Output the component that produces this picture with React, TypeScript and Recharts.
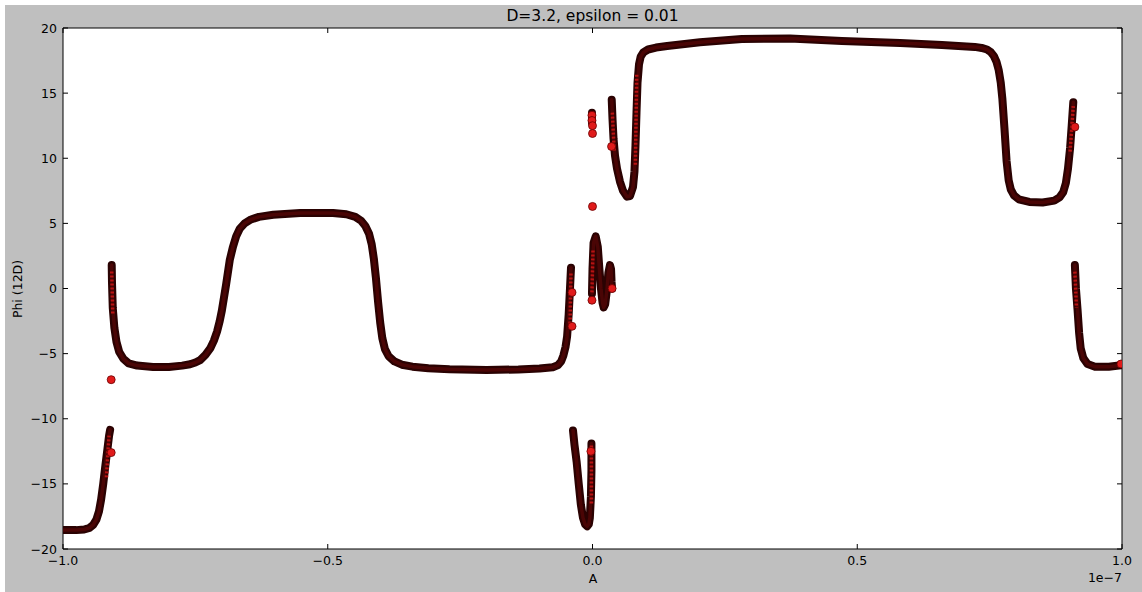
import React from "react";
import {
  CartesianGrid,
  ReferenceLine,
  Scatter,
  ScatterChart,
  XAxis,
  YAxis,
} from "recharts";

type Pt = { x: number; y: number };

// x is in units of 1e-7
const xTicks = [-1, -0.5, 0, 0.5, 1];
const yTicks = [-20, -15, -10, -5, 0, 5, 10, 15, 20];

const lowerLeft: Pt[] = [
  { x: -1.0, y: -18.55 }, { x: -0.975, y: -18.55 }, { x: -0.96, y: -18.5 },
  { x: -0.95, y: -18.38 }, { x: -0.943, y: -18.15 }, { x: -0.937, y: -17.75 },
  { x: -0.932, y: -17.1 }, { x: -0.928, y: -16.2 }, { x: -0.924, y: -15.0 },
  { x: -0.92, y: -13.6 }, { x: -0.916, y: -12.3 }, { x: -0.913, y: -11.3 },
  { x: -0.911, y: -10.85 },
];

const leftWell: Pt[] = [
  { x: -0.908, y: 1.8 }, { x: -0.9075, y: 0.5 }, { x: -0.906, y: -1.5 },
  { x: -0.903, y: -3.0 }, { x: -0.899, y: -4.1 }, { x: -0.894, y: -4.85 },
  { x: -0.886, y: -5.4 }, { x: -0.876, y: -5.75 }, { x: -0.86, y: -5.92 },
  { x: -0.83, y: -6.02 }, { x: -0.8, y: -6.02 }, { x: -0.775, y: -5.92 },
  { x: -0.76, y: -5.82 }, { x: -0.75, y: -5.68 }, { x: -0.741, y: -5.5 },
  { x: -0.731, y: -5.1 }, { x: -0.722, y: -4.6 }, { x: -0.715, y: -4.0 },
  { x: -0.709, y: -3.3 }, { x: -0.704, y: -2.5 }, { x: -0.7, y: -1.7 },
  { x: -0.692, y: 0.3 }, { x: -0.685, y: 2.2 }, { x: -0.679, y: 3.2 },
  { x: -0.673, y: 4.0 }, { x: -0.666, y: 4.6 }, { x: -0.657, y: 5.0 },
  { x: -0.645, y: 5.3 }, { x: -0.63, y: 5.5 }, { x: -0.603, y: 5.66 },
  { x: -0.552, y: 5.8 }, { x: -0.49, y: 5.8 }, { x: -0.465, y: 5.7 },
  { x: -0.448, y: 5.5 }, { x: -0.437, y: 5.2 }, { x: -0.429, y: 4.8 },
  { x: -0.422, y: 4.2 }, { x: -0.417, y: 3.4 }, { x: -0.413, y: 2.3 },
  { x: -0.409, y: 0.8 }, { x: -0.405, y: -1.0 }, { x: -0.401, y: -2.6 },
  { x: -0.397, y: -3.8 }, { x: -0.392, y: -4.65 }, { x: -0.385, y: -5.2 },
  { x: -0.374, y: -5.6 }, { x: -0.36, y: -5.85 }, { x: -0.34, y: -6.0 },
  { x: -0.31, y: -6.12 }, { x: -0.27, y: -6.2 }, { x: -0.2, y: -6.25 },
  { x: -0.14, y: -6.22 }, { x: -0.1, y: -6.15 }, { x: -0.075, y: -6.05 },
  { x: -0.065, y: -5.88 }, { x: -0.059, y: -5.58 }, { x: -0.055, y: -5.15 },
  { x: -0.051, y: -4.5 }, { x: -0.048, y: -3.7 }, { x: -0.045, y: -2.0 },
  { x: -0.0425, y: 0.0 }, { x: -0.0406, y: 1.6 },
];

const lowerDip: Pt[] = [
  { x: -0.0368, y: -10.9 }, { x: -0.034, y: -12.0 }, { x: -0.03, y: -13.3 },
  { x: -0.026, y: -15.0 }, { x: -0.022, y: -16.6 }, { x: -0.018, y: -17.6 },
  { x: -0.014, y: -18.1 }, { x: -0.01, y: -18.25 }, { x: -0.007, y: -18.1 },
  { x: -0.005, y: -17.6 }, { x: -0.003, y: -16.0 }, { x: -0.002, y: -14.0 },
  { x: -0.002, y: -11.9 },
];

const centreWiggle: Pt[] = [
  { x: -0.001, y: -0.4 }, { x: 0.0, y: 1.5 }, { x: 0.002, y: 3.5 },
  { x: 0.006, y: 4.0 }, { x: 0.01, y: 3.2 }, { x: 0.013, y: 1.5 },
  { x: 0.016, y: 0.0 }, { x: 0.019, y: -1.1 }, { x: 0.021, y: -1.45 },
  { x: 0.024, y: -1.2 }, { x: 0.027, y: -0.2 }, { x: 0.03, y: 1.2 },
  { x: 0.033, y: 1.8 }, { x: 0.035, y: 1.5 }, { x: 0.036, y: 0.5 },
  { x: 0.037, y: 0.0 },
];

const centreStub: Pt[] = [
  { x: -0.001, y: 13.5 }, { x: -0.001, y: 12.7 },
];

const upperArch: Pt[] = [
  { x: 0.0363, y: 14.5 }, { x: 0.0378, y: 13.0 }, { x: 0.0397, y: 11.5 },
  { x: 0.0425, y: 10.2 }, { x: 0.0463, y: 9.2 }, { x: 0.0519, y: 8.2 },
  { x: 0.0576, y: 7.5 }, { x: 0.0652, y: 7.05 }, { x: 0.0708, y: 7.1 },
  { x: 0.0765, y: 7.8 }, { x: 0.0793, y: 9.0 }, { x: 0.0812, y: 11.0 },
  { x: 0.0831, y: 13.5 }, { x: 0.085, y: 15.8 }, { x: 0.0878, y: 17.2 },
  { x: 0.091, y: 17.8 }, { x: 0.096, y: 18.12 }, { x: 0.105, y: 18.35 },
  { x: 0.12, y: 18.5 }, { x: 0.141, y: 18.62 }, { x: 0.203, y: 18.9 },
  { x: 0.282, y: 19.15 }, { x: 0.373, y: 19.2 }, { x: 0.471, y: 19.0 },
  { x: 0.581, y: 18.85 }, { x: 0.66, y: 18.7 }, { x: 0.722, y: 18.55 },
  { x: 0.735, y: 18.47 }, { x: 0.745, y: 18.35 }, { x: 0.752, y: 18.15 },
  { x: 0.758, y: 17.85 }, { x: 0.763, y: 17.4 }, { x: 0.767, y: 16.8 },
  { x: 0.771, y: 15.8 }, { x: 0.774, y: 14.6 }, { x: 0.778, y: 12.3 },
  { x: 0.782, y: 9.8 }, { x: 0.786, y: 8.3 }, { x: 0.79, y: 7.6 },
  { x: 0.796, y: 7.15 }, { x: 0.805, y: 6.85 }, { x: 0.825, y: 6.65 },
  { x: 0.85, y: 6.6 }, { x: 0.872, y: 6.75 }, { x: 0.882, y: 7.0 },
  { x: 0.889, y: 7.4 }, { x: 0.894, y: 8.1 }, { x: 0.898, y: 9.2 },
  { x: 0.902, y: 10.8 }, { x: 0.905, y: 12.5 }, { x: 0.908, y: 14.3 },
];

const rightTail: Pt[] = [
  { x: 0.911, y: 1.8 }, { x: 0.913, y: 0.0 }, { x: 0.916, y: -1.6 },
  { x: 0.919, y: -3.4 }, { x: 0.922, y: -4.6 }, { x: 0.927, y: -5.35 },
  { x: 0.935, y: -5.8 }, { x: 0.949, y: -6.0 }, { x: 0.975, y: -6.0 },
  { x: 0.998, y: -5.9 },
];

// steep stretches where the individual red markers show through
const redStreaks: Pt[][] = [
  [{ x: -0.918, y: -14.5 }, { x: -0.913, y: -11.3 }],
  [{ x: -0.908, y: 1.3 }, { x: -0.906, y: -2.0 }],
  [{ x: -0.0425, y: -3.0 }, { x: -0.0406, y: 1.3 }],
  [{ x: -0.002, y: -16.5 }, { x: -0.002, y: -12.0 }],
  [{ x: -0.001, y: -0.3 }, { x: 0.001, y: 3.0 }],
  [{ x: 0.0375, y: 13.5 }, { x: 0.041, y: 10.5 }],
  [{ x: 0.081, y: 9.5 }, { x: 0.0835, y: 16.5 }],
  [{ x: 0.902, y: 10.5 }, { x: 0.908, y: 14.0 }],
  [{ x: 0.911, y: 1.3 }, { x: 0.914, y: -1.5 }],
];

const strayPoints: Pt[] = [
  { x: -0.909, y: -7.0 }, { x: -0.909, y: -12.6 },
  { x: -0.0387, y: -0.3 }, { x: -0.0387, y: -2.9 },
  { x: -0.001, y: 13.3 }, { x: -0.001, y: 12.9 }, { x: 0.0, y: 12.5 },
  { x: 0.0, y: 11.9 }, { x: 0.0, y: 6.3 }, { x: -0.001, y: -0.9 },
  { x: 0.037, y: 0.0 }, { x: 0.036, y: 10.9 }, { x: -0.003, y: -12.5 },
  { x: 0.911, y: 12.4 }, { x: 0.998, y: -5.8 },
];

const branches = [lowerLeft, leftWell, lowerDip, centreWiggle, centreStub, upperArch, rightTail];

const W = 1137;
const H = 587;
const M = { top: 23, right: 20, bottom: 0, left: 0 };
const Y_W = 58;
const X_H = 43;
const PLOT_TOP = M.top;
const PLOT_RIGHT = W - M.right;
const FONT = "'DejaVu Sans', sans-serif";

const fmt = (v: number, digits?: number) =>
  (digits === undefined ? String(v) : v.toFixed(digits)).replace("-", "\u2212");

const XTick = (props: any) => {
  const { x, y, payload } = props;
  return (
    <g>
      <line x1={x} x2={x} y1={y} y2={y - 5} stroke="#000" />
      <line x1={x} x2={x} y1={PLOT_TOP} y2={PLOT_TOP + 5} stroke="#000" />
      <text x={x} y={y + 11} textAnchor="middle" dominantBaseline="central" fontSize={12.5} fontFamily={FONT} fill="#000">
        {fmt(payload.value, 1)}
      </text>
    </g>
  );
};

const YTick = (props: any) => {
  const { x, y, payload } = props;
  return (
    <g>
      <line x1={x} x2={x + 5} y1={y} y2={y} stroke="#000" />
      <line x1={PLOT_RIGHT - 5} x2={PLOT_RIGHT} y1={y} y2={y} stroke="#000" />
      <text x={x - 6} y={y} textAnchor="end" dominantBaseline="central" fontSize={12.5} fontFamily={FONT} fill="#000">
        {fmt(payload.value)}
      </text>
    </g>
  );
};

const NoDot = () => <g />;

const Marker = (props: any) => (
  <circle cx={props.cx} cy={props.cy} r={4} fill="#e01b1b" stroke="#6a0000" strokeWidth={0.8} />
);

export default function App() {
  return (
    <div style={{ width: 1142, height: 592, background: "#fff", position: "relative" }}>
      <style>{"body{margin:0}"}</style>
      <div style={{ position: "absolute", left: 5, top: 5, width: W, height: H, background: "#bfbfbf", fontFamily: FONT }}>
        <ScatterChart width={W} height={H} margin={M}>
          <CartesianGrid fill="#ffffff" horizontal={false} vertical={false} />
          <XAxis
            type="number"
            dataKey="x"
            domain={[-1, 1]}
            ticks={xTicks}
            allowDataOverflow
            height={X_H}
            tickSize={0}
            tickMargin={0}
            tick={XTick}
            axisLine={{ stroke: "#000" }}
          />
          <YAxis
            type="number"
            dataKey="y"
            domain={[-20, 20]}
            ticks={yTicks}
            allowDataOverflow
            width={Y_W}
            tickSize={0}
            tickMargin={0}
            tick={YTick}
            axisLine={{ stroke: "#000" }}
          />
          <ReferenceLine y={20} stroke="#000" />
          <ReferenceLine x={1} stroke="#000" />
          {branches.map((b, i) => (
            <Scatter
              key={`outer-${i}`}
              data={b}
              shape={NoDot}
              line={{ stroke: "#2a0202", strokeWidth: 8, strokeLinecap: "round", strokeLinejoin: "round" }}
              isAnimationActive={false}
            />
          ))}
          {branches.map((b, i) => (
            <Scatter
              key={`inner-${i}`}
              data={b}
              shape={NoDot}
              line={{ stroke: "#4a0505", strokeWidth: 3.5, strokeLinecap: "round", strokeLinejoin: "round" }}
              isAnimationActive={false}
            />
          ))}
          {redStreaks.map((s, i) => (
            <Scatter
              key={`streak-${i}`}
              data={s}
              shape={NoDot}
              line={{ stroke: "#b81212", strokeWidth: 3.5, strokeDasharray: "2 2", strokeLinecap: "butt" }}
              isAnimationActive={false}
            />
          ))}
          <Scatter data={strayPoints} shape={Marker} isAnimationActive={false} />
        </ScatterChart>
        <div style={{ position: "absolute", left: 587.5, top: 11, transform: "translate(-50%, -50%)", fontSize: 15.5, whiteSpace: "nowrap", color: "#000" }}>
          D=3.2, epsilon = 0.01
        </div>
        <div style={{ position: "absolute", left: 588, top: 573, transform: "translate(-50%, -50%)", fontSize: 12.5, color: "#000" }}>
          A
        </div>
        <div style={{ position: "absolute", left: 12, top: 284, transform: "translate(-50%, -50%) rotate(-90deg)", fontSize: 12.5, whiteSpace: "nowrap", color: "#000" }}>
          Phi (12D)
        </div>
        <div style={{ position: "absolute", right: W - 1117, top: 572, transform: "translateY(-50%)", fontSize: 12.5, whiteSpace: "nowrap", color: "#000" }}>
          1e{"\u2212"}7
        </div>
      </div>
    </div>
  );
}
